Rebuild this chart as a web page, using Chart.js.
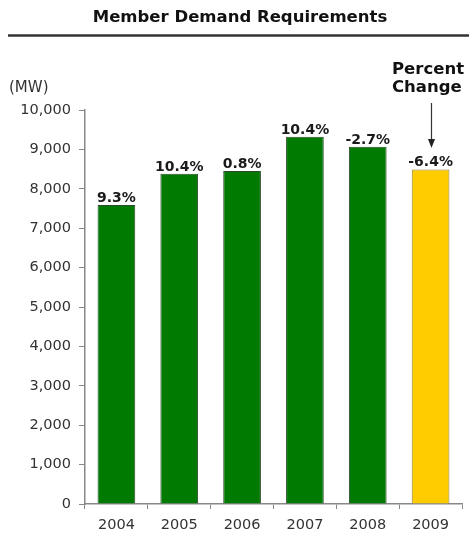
<!DOCTYPE html>
<html>
<head>
<meta charset="utf-8">
<script src="https://cdn.jsdelivr.net/npm/chart.js@4.4.0/dist/chart.umd.min.js"></script>
<style>
  html, body { margin: 0; padding: 0; background: #fff; }
  #wrap { position: relative; width: 469px; height: 543px; }
</style>
</head>
<body>
<div id="wrap"><canvas id="c" width="469" height="543"></canvas></div>
<script>
// Member demand requirements, MW by year
const years = ['2004', '2005', '2006', '2007', '2008', '2009'];
const demandMW = [7590, 8385, 8450, 9320, 9070, 8490];
const pctChange = ['9.3%', '10.4%', '0.8%', '10.4%', '-2.7%', '-6.4%'];
const yTicks = [0, 1000, 2000, 3000, 4000, 5000, 6000, 7000, 8000, 9000, 10000];

const GREEN = '#017a01';
const GOLD = '#ffcc00';
const fills = years.map((y, i) => i === years.length - 1 ? GOLD : GREEN);
const borders = years.map((y, i) => i === years.length - 1 ? '#8c7f3a' : '#2b4a2b');

const FONT = '"DejaVu Sans", Verdana, sans-serif';

// Title, rule, unit label, callout arrow and percentage labels
const decorations = {
  id: 'decorations',
  afterDatasetsDraw(chart) {
    const ctx = chart.ctx;
    ctx.save();
    // title
    ctx.fillStyle = '#111';
    ctx.font = 'bold 16.5px ' + FONT;
    ctx.textAlign = 'center';
    ctx.textBaseline = 'middle';
    ctx.fillText('Member Demand Requirements', 240, 18);
    // rule under title
    ctx.strokeStyle = '#333';
    ctx.lineWidth = 2.5;
    ctx.beginPath();
    ctx.moveTo(8, 35.5);
    ctx.lineTo(469, 35.5);
    ctx.stroke();
    // unit
    ctx.fillStyle = '#333';
    ctx.font = '15px ' + FONT;
    ctx.textAlign = 'left';
    ctx.fillText('(MW)', 9, 88);
    // callout
    ctx.fillStyle = '#111';
    ctx.font = 'bold 16.5px ' + FONT;
    ctx.fillText('Percent', 392, 70);
    ctx.fillText('Change', 392, 88);
    ctx.strokeStyle = '#333';
    ctx.lineWidth = 1.2;
    ctx.beginPath();
    ctx.moveTo(431.5, 103);
    ctx.lineTo(431.5, 142);
    ctx.stroke();
    ctx.fillStyle = '#222';
    ctx.beginPath();
    ctx.moveTo(428, 139);
    ctx.lineTo(435, 139);
    ctx.lineTo(431.5, 148);
    ctx.closePath();
    ctx.fill();
    // percentage labels above bars
    const meta = chart.getDatasetMeta(0);
    ctx.fillStyle = '#1a1a1a';
    ctx.font = 'bold 14px ' + FONT;
    ctx.textAlign = 'center';
    ctx.textBaseline = 'alphabetic';
    meta.data.forEach((bar, i) => {
      ctx.fillText(pctChange[i], bar.x, bar.y - 3);
    });
    ctx.restore();
  }
};

new Chart(document.getElementById('c'), {
  type: 'bar',
  data: {
    labels: years,
    datasets: [{
      data: demandMW,
      backgroundColor: fills,
      borderColor: borders,
      borderWidth: 1,
      barPercentage: 0.6,
      categoryPercentage: 1.0
    }]
  },
  options: {
    responsive: false,
    animation: false,
    devicePixelRatio: 1,
    layout: { padding: { top: 110, right: 7, left: 0, bottom: 0 } },
    plugins: {
      legend: { display: false },
      tooltip: { enabled: false }
    },
    scales: {
      x: {
        offset: true,
        grid: { display: true, offset: true, drawOnChartArea: false, tickLength: 5, color: '#888' },
        border: { display: true, color: '#888', width: 1.5 },
        ticks: { color: '#333', font: { family: FONT, size: 14.5 }, padding: 8 },
        afterFit(scale) { scale.height = 39; }
      },
      y: {
        min: 0,
        max: 10000,
        afterBuildTicks(scale) { scale.ticks = yTicks.map(v => ({ value: v })); },
        grid: { display: true, drawOnChartArea: false, tickLength: 6, color: '#888' },
        border: { display: true, color: '#888', width: 1.5 },
        ticks: {
          color: '#333',
          font: { family: FONT, size: 14.5 },
          padding: 8,
          callback: v => v.toLocaleString('en-US')
        },
        afterFit(scale) { scale.width = 85; }
      }
    }
  },
  plugins: [decorations]
});
</script>
</body>
</html>
